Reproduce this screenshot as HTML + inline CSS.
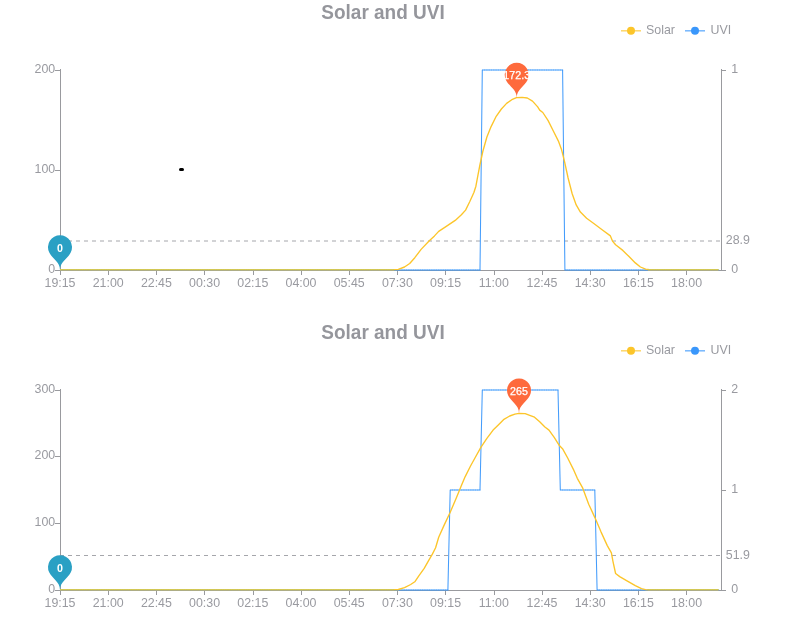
<!DOCTYPE html>
<html><head><meta charset="utf-8"><title>Solar and UVI</title>
<style>
html,body{margin:0;padding:0;background:#fff;}
body{width:792px;height:628px;overflow:hidden;}
svg{display:block;font-family:"Liberation Sans",sans-serif;}
</style></head><body>
<svg width="792" height="628" viewBox="0 0 792 628">
<rect width="792" height="628" fill="#fff"/>
<text x="383" y="18.9" text-anchor="middle" font-size="19.6" font-weight="bold" fill="#95969c" textLength="123.4" lengthAdjust="spacingAndGlyphs">Solar and UVI</text>
<line x1="621" y1="30.8" x2="641" y2="30.8" stroke="#fcc52a" stroke-width="1.5" opacity="0.7"/><circle cx="631" cy="30.8" r="4" fill="#fcc52a"/>
<text x="646" y="34.2" font-size="12.4" fill="#999aa0">Solar</text>
<line x1="685" y1="30.8" x2="705" y2="30.8" stroke="#3a97fb" stroke-width="1.5" opacity="0.7"/><circle cx="695" cy="30.8" r="4" fill="#3a97fb"/>
<text x="710.5" y="34.2" font-size="12.4" fill="#999aa0">UVI</text>
<g stroke="#999a9e" stroke-width="1" fill="none" shape-rendering="crispEdges">
<line x1="60.5" y1="69" x2="60.5" y2="271"/><line x1="721.5" y1="69" x2="721.5" y2="271"/><line x1="60" y1="270.5" x2="722" y2="270.5"/>
<line x1="55" y1="270.5" x2="60" y2="270.5"/>
<line x1="55" y1="170.5" x2="60" y2="170.5"/>
<line x1="55" y1="70.5" x2="60" y2="70.5"/>
<line x1="722" y1="270.5" x2="726" y2="270.5"/>
<line x1="722" y1="70.5" x2="726" y2="70.5"/>
<line x1="60.5" y1="271" x2="60.5" y2="275"/>
<line x1="108.5" y1="271" x2="108.5" y2="275"/>
<line x1="156.5" y1="271" x2="156.5" y2="275"/>
<line x1="204.5" y1="271" x2="204.5" y2="275"/>
<line x1="253.5" y1="271" x2="253.5" y2="275"/>
<line x1="301.5" y1="271" x2="301.5" y2="275"/>
<line x1="349.5" y1="271" x2="349.5" y2="275"/>
<line x1="397.5" y1="271" x2="397.5" y2="275"/>
<line x1="445.5" y1="271" x2="445.5" y2="275"/>
<line x1="494.5" y1="271" x2="494.5" y2="275"/>
<line x1="542.5" y1="271" x2="542.5" y2="275"/>
<line x1="590.5" y1="271" x2="590.5" y2="275"/>
<line x1="638.5" y1="271" x2="638.5" y2="275"/>
<line x1="686.5" y1="271" x2="686.5" y2="275"/>
</g>
<g font-size="12.4" fill="#999aa0">
<text x="55.2" y="272.7" text-anchor="end">0</text>
<text x="55.2" y="172.7" text-anchor="end">100</text>
<text x="55.2" y="72.7" text-anchor="end">200</text>
<text x="731.2" y="272.7">0</text>
<text x="731.2" y="72.7">1</text>
<text x="60.0" y="286.7" text-anchor="middle">19:15</text>
<text x="108.2" y="286.7" text-anchor="middle">21:00</text>
<text x="156.4" y="286.7" text-anchor="middle">22:45</text>
<text x="204.6" y="286.7" text-anchor="middle">00:30</text>
<text x="252.8" y="286.7" text-anchor="middle">02:15</text>
<text x="301.0" y="286.7" text-anchor="middle">04:00</text>
<text x="349.2" y="286.7" text-anchor="middle">05:45</text>
<text x="397.4" y="286.7" text-anchor="middle">07:30</text>
<text x="445.6" y="286.7" text-anchor="middle">09:15</text>
<text x="493.8" y="286.7" text-anchor="middle">11:00</text>
<text x="542.0" y="286.7" text-anchor="middle">12:45</text>
<text x="590.2" y="286.7" text-anchor="middle">14:30</text>
<text x="638.4" y="286.7" text-anchor="middle">16:15</text>
<text x="686.6" y="286.7" text-anchor="middle">18:00</text>
<text x="725.8" y="244.2">28.9</text>
</g>
<line x1="60" y1="241.0" x2="721" y2="241.0" stroke="#a5a6ab" stroke-width="1" stroke-dasharray="4,4"/>
<polyline points="60.0,270.0 480.0,270.0 482.3,70.0 562.6,70.0 564.9,270.0 718.7,270.0" fill="none" stroke="#3a97fb" stroke-width="1.05" stroke-linejoin="round" opacity="0.95"/>
<line x1="60.00" y1="270" x2="480.61" y2="270" stroke="#3a97fb" stroke-width="1.9" stroke-dasharray="1.1,1.1951" stroke-dashoffset="0.55" opacity="0.28"/>
<line x1="482.31" y1="70" x2="563.24" y2="70" stroke="#3a97fb" stroke-width="1.9" stroke-dasharray="1.1,1.1951" stroke-dashoffset="0.55" opacity="0.28"/>
<line x1="564.93" y1="270" x2="719.30" y2="270" stroke="#3a97fb" stroke-width="1.9" stroke-dasharray="1.1,1.1951" stroke-dashoffset="0.55" opacity="0.28"/>
<polyline points="390.0,269.9 398.3,269.4 404.5,267.0 409.7,263.5 414.8,257.7 421.1,249.4 429.3,240.7 434.5,235.9 438.7,231.4 445.9,226.6 455.2,220.4 461.4,214.8 465.6,210.1 469.7,201.8 473.9,192.5 475.9,186.2 478.0,174.8 479.7,166.0 482.8,151.5 486.9,137.0 491.1,126.6 496.2,116.3 501.4,109.0 506.6,103.4 511.8,99.7 516.5,97.7 522.1,97.4 527.3,98.0 532.5,101.1 537.7,106.9 539.7,110.1 542.8,112.5 548.0,120.4 553.2,130.8 558.4,141.1 561.5,149.4 564.6,161.8 568.1,178.0 572.1,193.5 576.2,204.9 580.4,212.1 586.6,218.3 593.8,223.5 602.1,229.7 610.4,235.9 612.5,241.1 615.6,244.8 622.8,250.4 629.0,256.6 635.3,262.9 640.4,267.0 645.6,269.2 651.8,269.9" fill="none" stroke="#fcc52a" stroke-width="1.35" stroke-linejoin="round"/>
<line x1="60.0" y1="269.5" x2="394.0" y2="269.5" stroke="#cfc85c" stroke-width="1"/>
<line x1="60.0" y1="270.5" x2="394.0" y2="270.5" stroke="#a9ab8d" stroke-width="1"/>
<line x1="60.0" y1="269.7" x2="394.0" y2="269.7" stroke="#e6c628" stroke-width="1.6" stroke-dasharray="1.1,1.1951" opacity="0.3"/>
<line x1="647.8" y1="269.5" x2="718.7" y2="269.5" stroke="#cfc85c" stroke-width="1"/>
<line x1="647.8" y1="270.5" x2="718.7" y2="270.5" stroke="#a9ab8d" stroke-width="1"/>
<line x1="647.8" y1="269.7" x2="718.7" y2="269.7" stroke="#e6c628" stroke-width="1.6" stroke-dasharray="1.1,1.1951" opacity="0.3"/>
<path d="M49.16,252.29 A12.00,12.00 0 1 1 70.84,252.29 C67.76,258.79 60.00,261.60 60.00,270.00 C60.00,261.60 52.24,258.79 49.16,252.29Z" fill="#2aa0c4"/>
<text x="60" y="251.8" text-anchor="middle" font-size="10.7" font-weight="bold" fill="#fff">0</text>
<path d="M505.89,79.99 A12.00,12.00 0 1 1 527.57,79.99 C524.49,86.49 516.73,89.30 516.73,97.70 C516.73,89.30 508.98,86.49 505.89,79.99Z" fill="#fe6a3c"/>
<text x="516.7326388888889" y="79.1" text-anchor="middle" font-size="10.7" fill="#fff" stroke="#fff" stroke-width="0.25">172.3</text>
<rect x="179" y="168" width="5" height="3" rx="1.5" fill="#000"/>
<text x="383" y="338.9" text-anchor="middle" font-size="19.6" font-weight="bold" fill="#95969c" textLength="123.4" lengthAdjust="spacingAndGlyphs">Solar and UVI</text>
<line x1="621" y1="350.8" x2="641" y2="350.8" stroke="#fcc52a" stroke-width="1.5" opacity="0.7"/><circle cx="631" cy="350.8" r="4" fill="#fcc52a"/>
<text x="646" y="354.2" font-size="12.4" fill="#999aa0">Solar</text>
<line x1="685" y1="350.8" x2="705" y2="350.8" stroke="#3a97fb" stroke-width="1.5" opacity="0.7"/><circle cx="695" cy="350.8" r="4" fill="#3a97fb"/>
<text x="710.5" y="354.2" font-size="12.4" fill="#999aa0">UVI</text>
<g stroke="#999a9e" stroke-width="1" fill="none" shape-rendering="crispEdges">
<line x1="60.5" y1="389" x2="60.5" y2="591"/><line x1="721.5" y1="389" x2="721.5" y2="591"/><line x1="60" y1="590.5" x2="722" y2="590.5"/>
<line x1="55" y1="590.5" x2="60" y2="590.5"/>
<line x1="55" y1="523.5" x2="60" y2="523.5"/>
<line x1="55" y1="456.5" x2="60" y2="456.5"/>
<line x1="55" y1="390.5" x2="60" y2="390.5"/>
<line x1="722" y1="590.5" x2="726" y2="590.5"/>
<line x1="722" y1="490.5" x2="726" y2="490.5"/>
<line x1="722" y1="390.5" x2="726" y2="390.5"/>
<line x1="60.5" y1="591" x2="60.5" y2="595"/>
<line x1="108.5" y1="591" x2="108.5" y2="595"/>
<line x1="156.5" y1="591" x2="156.5" y2="595"/>
<line x1="204.5" y1="591" x2="204.5" y2="595"/>
<line x1="253.5" y1="591" x2="253.5" y2="595"/>
<line x1="301.5" y1="591" x2="301.5" y2="595"/>
<line x1="349.5" y1="591" x2="349.5" y2="595"/>
<line x1="397.5" y1="591" x2="397.5" y2="595"/>
<line x1="445.5" y1="591" x2="445.5" y2="595"/>
<line x1="494.5" y1="591" x2="494.5" y2="595"/>
<line x1="542.5" y1="591" x2="542.5" y2="595"/>
<line x1="590.5" y1="591" x2="590.5" y2="595"/>
<line x1="638.5" y1="591" x2="638.5" y2="595"/>
<line x1="686.5" y1="591" x2="686.5" y2="595"/>
</g>
<g font-size="12.4" fill="#999aa0">
<text x="55.2" y="592.7" text-anchor="end">0</text>
<text x="55.2" y="526.0" text-anchor="end">100</text>
<text x="55.2" y="459.4" text-anchor="end">200</text>
<text x="55.2" y="392.7" text-anchor="end">300</text>
<text x="731.2" y="592.7">0</text>
<text x="731.2" y="492.7">1</text>
<text x="731.2" y="392.7">2</text>
<text x="60.0" y="606.7" text-anchor="middle">19:15</text>
<text x="108.2" y="606.7" text-anchor="middle">21:00</text>
<text x="156.4" y="606.7" text-anchor="middle">22:45</text>
<text x="204.6" y="606.7" text-anchor="middle">00:30</text>
<text x="252.8" y="606.7" text-anchor="middle">02:15</text>
<text x="301.0" y="606.7" text-anchor="middle">04:00</text>
<text x="349.2" y="606.7" text-anchor="middle">05:45</text>
<text x="397.4" y="606.7" text-anchor="middle">07:30</text>
<text x="445.6" y="606.7" text-anchor="middle">09:15</text>
<text x="493.8" y="606.7" text-anchor="middle">11:00</text>
<text x="542.0" y="606.7" text-anchor="middle">12:45</text>
<text x="590.2" y="606.7" text-anchor="middle">14:30</text>
<text x="638.4" y="606.7" text-anchor="middle">16:15</text>
<text x="686.6" y="606.7" text-anchor="middle">18:00</text>
<text x="725.8" y="558.7">51.9</text>
</g>
<line x1="60" y1="555.5" x2="721" y2="555.5" stroke="#a5a6ab" stroke-width="1" stroke-dasharray="4,4"/>
<polyline points="60.0,590.0 447.9,590.0 450.2,490.0 480.0,490.0 482.3,390.0 558.0,390.0 560.3,490.0 594.8,490.0 597.1,590.0 718.7,590.0" fill="none" stroke="#3a97fb" stroke-width="1.05" stroke-linejoin="round" opacity="0.95"/>
<line x1="60.00" y1="590" x2="448.48" y2="590" stroke="#3a97fb" stroke-width="1.9" stroke-dasharray="1.1,1.1951" stroke-dashoffset="0.55" opacity="0.28"/>
<line x1="450.17" y1="490" x2="480.61" y2="490" stroke="#3a97fb" stroke-width="1.9" stroke-dasharray="1.1,1.1951" stroke-dashoffset="0.55" opacity="0.28"/>
<line x1="482.31" y1="390" x2="558.65" y2="390" stroke="#3a97fb" stroke-width="1.9" stroke-dasharray="1.1,1.1951" stroke-dashoffset="0.55" opacity="0.28"/>
<line x1="560.34" y1="490" x2="595.37" y2="490" stroke="#3a97fb" stroke-width="1.9" stroke-dasharray="1.1,1.1951" stroke-dashoffset="0.55" opacity="0.28"/>
<line x1="597.06" y1="590" x2="719.30" y2="590" stroke="#3a97fb" stroke-width="1.9" stroke-dasharray="1.1,1.1951" stroke-dashoffset="0.55" opacity="0.28"/>
<polyline points="390.0,589.9 398.3,589.5 404.5,587.6 410.7,584.5 414.8,581.8 419.0,575.6 424.2,568.4 428.3,561.1 432.5,553.9 435.6,547.7 438.7,537.3 443.8,525.9 450.1,512.5 456.3,498.0 461.4,485.5 465.2,476.6 470.4,466.3 475.5,457.0 480.7,447.7 486.9,438.3 493.1,430.1 498.3,424.9 503.5,419.7 509.7,416.0 514.9,414.1 519.0,413.3 525.2,413.6 530.4,415.6 534.5,417.2 539.7,421.8 544.9,427.0 549.0,430.1 554.2,437.3 559.4,445.6 562.5,448.7 567.7,458.0 573.9,470.4 577.3,478.3 582.5,487.6 588.7,504.2 594.9,517.6 601.1,532.1 607.3,545.6 611.4,552.8 612.9,561.1 615.6,573.5 619.7,576.6 627.0,580.8 635.3,585.6 641.5,588.7 645.6,589.6 651.8,589.9" fill="none" stroke="#fcc52a" stroke-width="1.35" stroke-linejoin="round"/>
<line x1="60.0" y1="589.5" x2="394.0" y2="589.5" stroke="#cfc85c" stroke-width="1"/>
<line x1="60.0" y1="590.5" x2="394.0" y2="590.5" stroke="#a9ab8d" stroke-width="1"/>
<line x1="60.0" y1="589.7" x2="394.0" y2="589.7" stroke="#e6c628" stroke-width="1.6" stroke-dasharray="1.1,1.1951" opacity="0.3"/>
<line x1="647.8" y1="589.5" x2="718.7" y2="589.5" stroke="#cfc85c" stroke-width="1"/>
<line x1="647.8" y1="590.5" x2="718.7" y2="590.5" stroke="#a9ab8d" stroke-width="1"/>
<line x1="647.8" y1="589.7" x2="718.7" y2="589.7" stroke="#e6c628" stroke-width="1.6" stroke-dasharray="1.1,1.1951" opacity="0.3"/>
<path d="M49.16,572.29 A12.00,12.00 0 1 1 70.84,572.29 C67.76,578.79 60.00,581.60 60.00,590.00 C60.00,581.60 52.24,578.79 49.16,572.29Z" fill="#2aa0c4"/>
<text x="60" y="571.8" text-anchor="middle" font-size="10.7" font-weight="bold" fill="#fff">0</text>
<path d="M508.19,395.59 A12.00,12.00 0 1 1 529.87,395.59 C526.78,402.09 519.03,404.90 519.03,413.30 C519.03,404.90 511.27,402.09 508.19,395.59Z" fill="#fe6a3c"/>
<text x="519.0277777777778" y="394.7" text-anchor="middle" font-size="10.7" fill="#fff" stroke="#fff" stroke-width="0.25">265</text>
</svg>
</body></html>
